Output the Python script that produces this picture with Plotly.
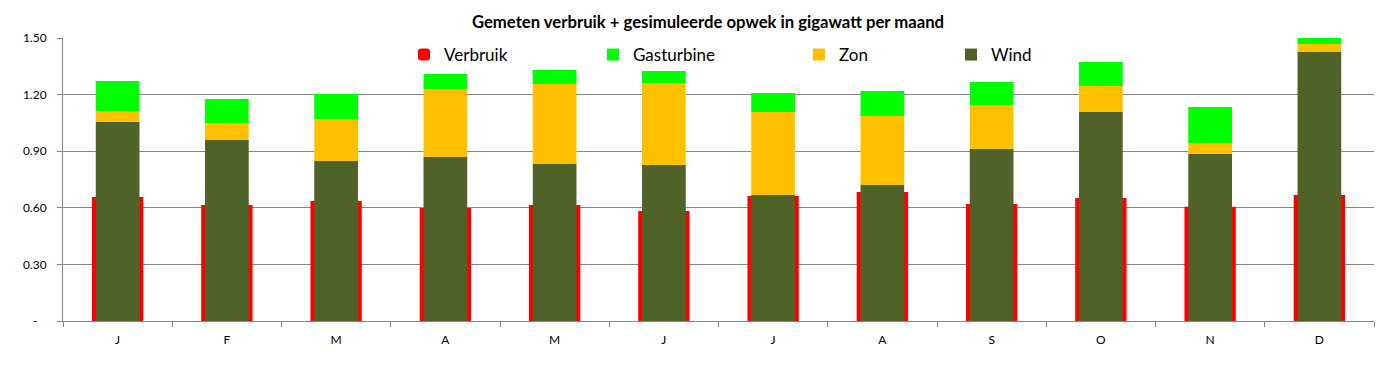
import plotly.graph_objects as go

months = ["J", "F", "M", "A", "M", "J", "J", "A", "S", "O", "N", "D"]
verbruik = [0.657, 0.615, 0.636, 0.599, 0.615, 0.583, 0.662, 0.684, 0.620, 0.652, 0.606, 0.668]
wind = [1.055, 0.959, 0.848, 0.869, 0.832, 0.827, 0.668, 0.721, 0.912, 1.108, 0.885, 1.426]
zon = [0.058, 0.090, 0.223, 0.361, 0.424, 0.434, 0.440, 0.366, 0.233, 0.138, 0.058, 0.042]
gasturbine = [0.159, 0.128, 0.132, 0.079, 0.074, 0.064, 0.100, 0.132, 0.122, 0.127, 0.191, 0.040]
yticks = [0, 0.3, 0.6, 0.9, 1.2, 1.5]
yticktext = ["-\u00a0\u00a0\u00a0", "0.30", "0.60", "0.90", "1.20", "1.50"]

x = list(range(len(months)))
base_zon = [w for w in wind]
base_gas = [w + z for w, z in zip(wind, zon)]

FONT = "Lato"
W, H = 1380, 359          # page body has an 8px margin
L, R, T, B = 55, 14, 30, 46
PW, PH = W - L - R, H - T - B

fig = go.Figure()
fig.add_trace(go.Bar(x=x, y=verbruik, name="Verbruik", width=0.47,
                     marker=dict(color="#FF0000", cornerradius=4, line_width=0),
                     legend="legend"))
fig.add_trace(go.Bar(x=x, y=gasturbine, base=base_gas, name="Gasturbine", width=0.40,
                     marker=dict(color="#00FF00", line_width=0), legend="legend2"))
fig.add_trace(go.Bar(x=x, y=zon, base=base_zon, name="Zon", width=0.40,
                     marker=dict(color="#FFC000", line_width=0), legend="legend3"))
fig.add_trace(go.Bar(x=x, y=wind, name="Wind", width=0.40,
                     marker=dict(color="#4F6228", line_width=0), legend="legend4"))

def leg(fx):
    return dict(x=(fx - L) / PW, xref="paper", y=(H - B - 47) / PH, yref="paper",
                xanchor="left", yanchor="middle", orientation="h",
                bgcolor="rgba(0,0,0,0)", font=dict(family=FONT, size=17, color="#000000"))

fig.update_layout(
    width=W, height=H,
    margin=dict(l=L, r=R, t=T, b=B, autoexpand=False),
    paper_bgcolor="white", plot_bgcolor="white",
    barmode="overlay", showlegend=True,
    title=dict(text="<b>Gemeten verbruik + gesimuleerde opwek in gigawatt per maand</b>",
               x=700 / W, xanchor="center", y=1 - 14 / H, yanchor="middle",
               font=dict(family=FONT, size=16.7, color="#000000")),
    legend=leg(396), legend2=leg(585), legend3=leg(791), legend4=leg(943),
    font=dict(family=FONT, size=12, color="#000000"),
)
fig.update_xaxes(range=[-0.5, 11.5], tickvals=x, ticktext=months, ticks="",
                 showgrid=False, showline=True, linecolor="#868686", linewidth=1,
                 minor=dict(tick0=0.5, dtick=1, ticks="outside", ticklen=5,
                            tickcolor="#868686", showgrid=False),
                 ticklabelstandoff=8,
                 tickfont=dict(family=FONT, size=12), zeroline=False, fixedrange=True)
fig.update_yaxes(range=[0, 1.5], tickvals=yticks, ticktext=yticktext,
                 ticks="outside", ticklen=5, tickcolor="#868686",
                 showgrid=True, gridcolor="#868686", gridwidth=1,
                 showline=True, linecolor="#868686", linewidth=1, zeroline=False,
                 ticklabelstandoff=8,
                 tickfont=dict(family=FONT, size=12))

fig.write_html("out.html")
